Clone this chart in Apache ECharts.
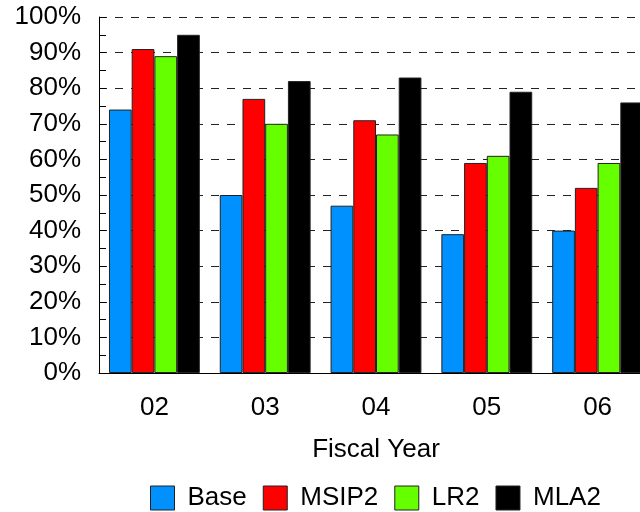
<!DOCTYPE html>
<html><head><meta charset="utf-8">
<script src="https://cdn.jsdelivr.net/npm/echarts@6/dist/echarts.min.js"></script>
<style>html,body{margin:0;padding:0;background:#fff;overflow:hidden;width:640px;height:512px}#c{width:653px;height:512px}</style>
</head><body><div id="c"></div>
<script>
const categories = ['02', '03', '04', '05', '06'];
const base = [74, 50, 47, 39, 40];
const msip2 = [91, 77, 71, 59, 52];
const lr2 = [89, 70, 67, 61, 59];
const mla2 = [95, 82, 83, 79, 76];
const yTicks = [0, 10, 20, 30, 40, 50, 60, 70, 80, 90, 100];

const font = 'Liberation Sans, Arial, sans-serif';
const chart = echarts.init(document.getElementById('c'), null, {renderer: 'canvas'});
function s(name, data, color) {
  return {
    name, type: 'bar', data, barGap: '0%', barCategoryGap: '18%',
    itemStyle: {color, borderColor: '#222', borderWidth: 1},
    emphasis: {disabled: true}
  };
}
chart.setOption({
  animation: false,
  textStyle: {fontFamily: font},
  grid: {left: 99, top: 17, bottom: 139, right: 0, containLabel: false},
  legend: {
    left: 150, top: 485, padding: 0, itemWidth: 24, itemHeight: 24, itemGap: 16,
    icon: 'rect',
    textStyle: {fontSize: 26, color: '#000', fontFamily: font, padding: [0, 0, 0, 8]},
    itemStyle: {borderColor: '#222', borderWidth: 1},
    data: ['Base', 'MSIP2', 'LR2', 'MLA2']
  },
  xAxis: {
    type: 'category', data: categories,
    name: 'Fiscal Year', nameLocation: 'middle', nameGap: 64,
    nameTextStyle: {fontSize: 26, color: '#000', fontFamily: font},
    axisLine: {lineStyle: {color: '#000', width: 1}},
    axisTick: {show: false},
    axisLabel: {fontSize: 26, color: '#000', margin: 22, fontFamily: font}
  },
  yAxis: {
    type: 'value', min: 0, max: 100, interval: 10,
    axisLine: {show: true, lineStyle: {color: '#000', width: 1}},
    axisTick: {show: true, inside: true, length: 7, lineStyle: {color: '#000'}},
    minorTick: {show: true, splitNumber: 2, length: 7, lineStyle: {color: '#000'}},
    axisLabel: {fontSize: 26, color: '#000', margin: 18, fontFamily: font,
      formatter: v => yTicks.includes(v) ? v + '%' : ''},
    splitLine: {show: true, lineStyle: {color: '#222', type: [8, 8], width: 1}}
  },
  series: [
    s('Base', base, '#0091ff'),
    s('MSIP2', msip2, '#ff0000'),
    s('LR2', lr2, '#66ff00'),
    s('MLA2', mla2, '#000000')
  ]
});
</script></body></html>
